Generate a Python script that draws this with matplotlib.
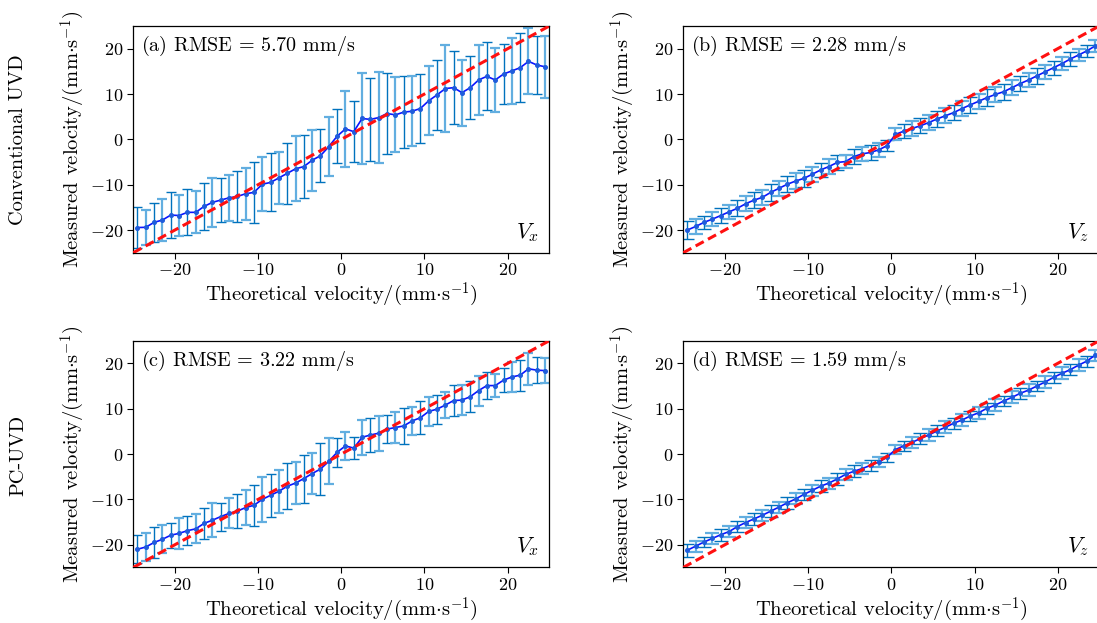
import numpy as np
import matplotlib
matplotlib.use('Agg')
import matplotlib.pyplot as plt

plt.rcParams['font.family'] = ['cmr10', 'DejaVu Serif']
plt.rcParams['mathtext.fontset'] = 'cm'
plt.rcParams['axes.formatter.use_mathtext'] = True
plt.rcParams['axes.unicode_minus'] = True

theoretical = [-24.5, -23.5, -22.5, -21.5, -20.5, -19.5, -18.5, -17.5, -16.5, -15.5,
               -14.5, -13.5, -12.5, -11.5, -10.5, -9.5, -8.5, -7.5, -6.5, -5.5,
               -4.5, -3.5, -2.5, -1.5, -0.5, 0.5, 1.5, 2.5, 3.5, 4.5,
               5.5, 6.5, 7.5, 8.5, 9.5, 10.5, 11.5, 12.5, 13.5, 14.5,
               15.5, 16.5, 17.5, 18.5, 19.5, 20.5, 21.5, 22.5, 23.5, 24.5]

# (a) Conventional UVD, Vx
mean_a = [-19.45, -19.4, -18.3, -17.8, -16.7, -16.8, -16.1, -16.1, -14.8, -13.9,
          -13.4, -12.9, -12.6, -12.0, -11.7, -9.9, -9.5, -8.5, -7.5, -6.5,
          -6.0, -4.6, -3.6, -1.6, 0.7, 2.3, 1.7, 4.6, 4.4, 4.8,
          5.7, 5.4, 6.0, 6.2, 6.8, 8.5, 9.8, 11.2, 11.4, 10.3,
          11.4, 13.1, 13.9, 13.1, 14.4, 15.1, 15.8, 17.2, 16.4, 16.0]
err_a = [4.6, 3.9, 4.3, 4.6, 5.0, 4.5, 5.1, 4.6, 5.1, 5.4,
         4.9, 5.0, 5.6, 5.7, 6.7, 5.9, 6.4, 5.8, 6.7, 7.2,
         7.0, 6.7, 5.9, 6.5, 5.9, 8.4, 6.7, 10.0, 9.2, 10.0,
         8.9, 8.3, 8.0, 7.7, 7.6, 7.6, 7.8, 9.6, 8.0, 7.3,
         7.0, 7.8, 7.5, 7.0, 6.7, 7.2, 7.6, 7.3, 6.4, 6.8]

# (b) Conventional UVD, Vz
mean_b = [-20.0, -19.2, -18.3, -17.6, -16.8, -16.0, -15.2, -14.2, -13.4, -12.8,
          -11.7, -10.8, -9.9, -9.2, -8.6, -7.7, -6.75, -6.0, -5.1, -4.9,
          -3.8, -3.2, -2.9, -2.3, -1.4, 1.1, 1.8, 2.4, 3.0, 3.7,
          4.5, 5.2, 5.9, 6.8, 7.6, 8.4, 9.2, 9.9, 10.5, 11.4,
          12.3, 13.1, 14.0, 14.9, 15.8, 16.7, 17.7, 18.6, 19.5, 20.6]
err_b = [1.9, 1.6, 1.5, 1.6, 1.7, 1.6, 1.8, 1.7, 1.8, 1.7,
         1.8, 1.7, 1.8, 1.7, 1.8, 1.7, 1.6, 1.7, 1.6, 1.5,
         1.6, 1.5, 1.6, 1.5, 1.2, 1.3, 1.5, 1.6, 1.6, 1.6,
         1.7, 1.7, 1.6, 1.7, 1.8, 1.7, 1.8, 1.7, 1.8, 1.7,
         1.7, 1.6, 1.7, 1.6, 1.5, 1.5, 1.5, 1.4, 1.4, 1.3]

# (c) PC-UVD, Vx
mean_c = [-21.0, -20.5, -19.5, -18.8, -17.9, -17.5, -16.9, -16.5, -15.3, -14.6,
          -13.8, -13.1, -12.6, -11.8, -11.3, -10.0, -9.1, -8.2, -7.1, -6.4,
          -5.4, -4.3, -3.3, -1.6, 0.4, 1.8, 1.3, 3.7, 4.2, 4.6,
          5.5, 5.85, 6.2, 7.3, 8.0, 9.4, 9.9, 10.8, 11.8, 11.9,
          12.65, 14.0, 15.1, 15.1, 16.3, 17.0, 17.4, 18.8, 18.5, 18.4]
err_c = [3.1, 3.0, 3.4, 3.1, 2.8, 3.4, 3.2, 3.2, 3.4, 3.7,
         3.1, 3.3, 3.8, 3.9, 4.5, 5.0, 4.8, 4.7, 5.1, 4.7,
         5.3, 4.5, 5.7, 5.1, 3.2, 3.1, 2.5, 3.9, 3.7, 3.9,
         3.1, 3.4, 4.0, 3.1, 3.6, 3.2, 3.2, 2.9, 3.5, 3.3,
         3.4, 3.3, 3.0, 2.6, 2.7, 3.3, 3.4, 3.5, 2.8, 2.7]

# (d) PC-UVD, Vz
mean_d = [-21.2, -20.3, -19.4, -18.6, -17.8, -17.1, -16.0, -15.1, -14.3, -13.5,
          -12.6, -11.7, -10.75, -9.9, -8.9, -8.0, -7.1, -6.4, -5.5, -4.5,
          -3.8, -3.2, -2.5, -1.75, -0.7, 1.0, 1.8, 2.6, 3.4, 4.2,
          5.1, 5.9, 6.8, 7.5, 8.4, 9.1, 10.1, 10.8, 11.7, 12.5,
          13.4, 14.1, 15.0, 15.9, 16.9, 17.8, 18.6, 19.6, 20.5, 21.8]
err_d = [1.4, 1.2, 1.2, 1.2, 1.3, 1.2, 1.3, 1.2, 1.3, 1.2,
         1.3, 1.2, 1.3, 1.2, 1.3, 1.2, 1.3, 1.2, 1.3, 1.2,
         1.3, 1.2, 1.2, 1.1, 1.0, 1.0, 1.1, 1.2, 1.2, 1.3,
         1.2, 1.3, 1.2, 1.3, 1.2, 1.3, 1.2, 1.3, 1.2, 1.3,
         1.2, 1.3, 1.2, 1.3, 1.2, 1.3, 1.2, 1.3, 1.2, 1.2]

ideal = [-25, 25]
labels = [r'(a) RMSE$\,=\,$5.70 mm/s', r'(b) RMSE$\,=\,$2.28 mm/s',
          r'(c) RMSE$\,=\,$3.22 mm/s', r'(d) RMSE$\,=\,$1.59 mm/s']
comp = [r'$V_x$', r'$V_z$', r'$V_x$', r'$V_z$']
row_labels = ['Conventional UVD', 'PC-UVD']
xticks = [-20, -10, 0, 10, 20]
yticks = [-20, -10, 0, 10, 20]

means = [mean_a, mean_b, mean_c, mean_d]
errs = [err_a, err_b, err_c, err_d]
caps = [3.5, 5.0, 3.5, 5.0]

fig = plt.figure(figsize=(10.97, 6.23), dpi=100)
W, H = 1097, 623
boxes = [(133.3, 26, 416, 226.7), (683.3, 26, 416, 226.7),
         (133.3, 340.7, 416, 226.7), (683.3, 340.7, 416, 226.7)]

dark = '#0072BD'
light = '#62AEE0'
th = np.array(theoretical)

for i in range(4):
    l, t, w, h = boxes[i]
    ax = fig.add_axes([l / W, (H - t - h) / H, w / W, h / H])
    m = np.array(means[i])
    e = np.array(errs[i])
    ev = np.arange(len(th)) % 2 == 0
    od = ~ev
    ax.errorbar(th[ev], m[ev], yerr=e[ev], fmt='none', ecolor=dark,
                elinewidth=1.0, capsize=caps[i], capthick=1.0, zorder=2)
    ax.errorbar(th[od], m[od], yerr=e[od], fmt='none', ecolor=light,
                elinewidth=1.6, capsize=caps[i], capthick=1.6, zorder=2)
    ax.plot(th, m, '-', color='#0a14ff', lw=1.2, zorder=3)
    ax.plot(th, m, 'o', color='#1f5cdc', ms=2.6, zorder=4)
    ax.plot(ideal, ideal, '--', color='#ff1010', lw=2.2, dashes=(3, 1.6), zorder=5)
    ax.set_xlim(-25, 25)
    ax.set_ylim(-25, 25)
    ax.set_xticks(xticks)
    ax.set_yticks(yticks)
    ax.tick_params(direction='out', length=4, width=0.8, labelsize=13, pad=3)
    for s in ax.spines.values():
        s.set_linewidth(0.9)
    ax.set_xlabel(r'Theoretical velocity/(mm$\cdot$s$^{-1}$)', fontsize=14.8, labelpad=2)
    ax.set_ylabel(r'Measured velocity/(mm$\cdot$s$^{-1}$)', fontsize=14.8, labelpad=2)
    ax.text(0.018, 0.965, labels[i], transform=ax.transAxes, fontsize=14.5,
            va='top', ha='left')
    ax.text(0.975, 0.04, comp[i], transform=ax.transAxes, fontsize=16,
            va='bottom', ha='right')

fig.text(18 / W, 1 - 140 / H, row_labels[0], rotation=90, fontsize=14.6,
         va='center', ha='center')
fig.text(18 / W, 1 - 455 / H, row_labels[1], rotation=90, fontsize=14.6,
         va='center', ha='center')

fig.savefig('out.png', dpi=100)
